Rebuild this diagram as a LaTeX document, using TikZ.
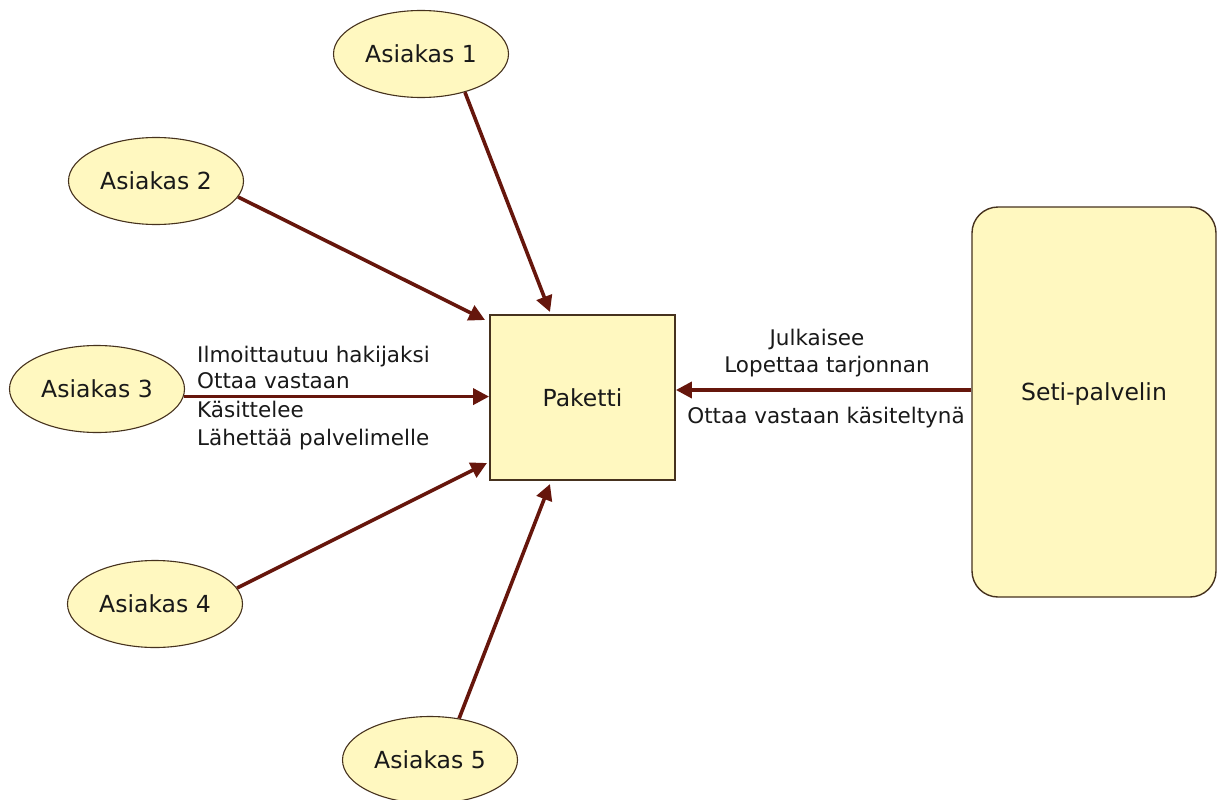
\documentclass[tikz,border=0pt]{standalone}
\usepackage{fontspec}
\setmainfont{DejaVu Sans}
\usetikzlibrary{shapes.geometric,arrows.meta}
\definecolor{arrowred}{RGB}{102,22,12}
\definecolor{fillyel}{RGB}{255,248,192}
\definecolor{edgebrown}{RGB}{70,50,30}
\definecolor{txt}{RGB}{25,25,25}
\begin{document}
\begin{tikzpicture}[x=1pt,y=-1pt,
  client/.style={ellipse, draw=edgebrown, line width=1.1pt, fill=fillyel,
    minimum width=175pt, minimum height=87pt, inner sep=0pt,
    font=\fontsize{23.5}{28}\selectfont, text=txt},
  pkgbox/.style={rectangle, draw=edgebrown, line width=1.8pt, fill=fillyel,
    minimum width=185pt, minimum height=165pt, inner sep=0pt,
    font=\fontsize{23.5}{28}\selectfont, text=txt},
  server/.style={rectangle, rounded corners=26pt, draw=edgebrown, line width=1.4pt,
    fill=fillyel, minimum width=244pt, minimum height=390pt, inner sep=0pt,
    font=\fontsize{23.5}{28}\selectfont, text=txt},
  flow/.style={draw=arrowred, line width=3.6pt, -{Triangle[length=16pt,width=16pt]}},
  lbl/.style={font=\fontsize{21.5}{26}\selectfont, text=txt, inner sep=0pt}
]
\useasboundingbox[fill=white] (0,0) rectangle (1218,800);

\node[client] (A1) at (421,54) {Asiakas 1};
\node[client] (A2) at (156,181) {Asiakas 2};
\node[client] (A3) at (97,389) {Asiakas 3};
\node[client] (A4) at (155,604) {Asiakas 4};
\node[client] (A5) at (430,760) {Asiakas 5};
\node[pkgbox] (P) at (582.5,397.5) {Paketti};
\node[server, text depth=21pt] (S) at (1094,402) {Seti-palvelin};

\coordinate (t1) at (550,312);
\coordinate (t2) at (485,320);
\coordinate (t4) at (487,463);
\coordinate (t5) at (550,484);
\coordinate (sIn) at ([yshift=12pt]S.west);

\draw[flow] (A1.-41) -- (t1);
\draw[flow] (A2.-11) -- (t2);
\draw[flow] (A3.-5) -- (A3.-5 -| P.west);
\draw[flow] (A4.11) -- (t4);
\draw[flow] (A5.55) -- (t5);
\draw[flow] (sIn) -- (sIn -| P.east);

\node[lbl, anchor=base west] (l1) at (197,362) {Ilmoittautuu hakijaksi};
\node[lbl, anchor=base west] (l2) at (197,388) {Ottaa vastaan};
\node[lbl, anchor=base west] (l3) at (197,417) {Käsittelee};
\node[lbl, anchor=base west] (l4) at (197,445) {Lähettää palvelimelle};

\node[lbl, anchor=base] (r1) at (817,345) {Julkaisee};
\node[lbl, anchor=base] (r2) at (827,372) {Lopettaa tarjonnan};
\node[lbl, anchor=base] (r3) at (826,423) {Ottaa vastaan käsiteltynä};
\end{tikzpicture}
\end{document}
